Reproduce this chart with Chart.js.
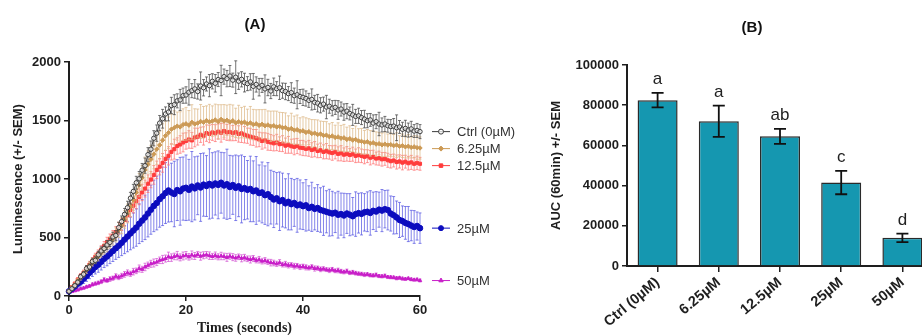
<!DOCTYPE html>
<html>
<head>
<meta charset="utf-8">
<script src="https://cdn.jsdelivr.net/npm/chart.js@4.4.1/dist/chart.umd.min.js"></script>
<style>
    html, body { margin: 0; padding: 0; background: #fff; overflow: hidden; }
    #wrap { position: relative; width: 922px; height: 335px; overflow: hidden; }
    #chartA { position: absolute; left: 0; top: 0; }
    #chartB { position: absolute; left: 540px; top: 0; }
</style>
</head>
<body>
<div id="wrap">
    <canvas id="chartA" width="560" height="335"></canvas>
    <canvas id="chartB" width="400" height="335"></canvas>
</div>
<script>
// (A) luminescence kinetics, one reading every 0.5 s from 0 to 60 s
const timeStep = 0.5;
const seriesNames = ['Ctrl (0µM)', '6.25µM', '12.5µM', '25µM', '50µM'];

const ctrlMean = [
    40, 62, 88, 118, 165, 186, 235, 248, 295, 305,
    352, 385, 405, 436, 458, 505, 518, 585, 636, 698,
    755, 836, 894, 968, 1002, 1075, 1114, 1208, 1255, 1348,
    1392, 1478, 1515, 1556, 1572, 1628, 1635, 1668, 1676, 1712,
    1718, 1742, 1755, 1770, 1748, 1795, 1780, 1812, 1798, 1835,
    1818, 1850, 1842, 1875, 1858, 1880, 1845, 1870, 1836, 1852,
    1824, 1815, 1830, 1792, 1808, 1785, 1800, 1770, 1782, 1752,
    1788, 1772, 1780, 1755, 1748, 1730, 1738, 1712, 1720, 1705,
    1698, 1688, 1672, 1680, 1655, 1648, 1630, 1640, 1615, 1622,
    1605, 1612, 1590, 1598, 1572, 1580, 1560, 1548, 1535, 1540,
    1525, 1512, 1498, 1505, 1478, 1490, 1470, 1462, 1470, 1455,
    1448, 1452, 1438, 1445, 1425, 1432, 1418, 1428, 1410, 1415,
    1405
];
const ctrlSem = [
    10, 12, 15, 18, 20, 22, 25, 25, 28, 30,
    30, 35, 32, 38, 35, 40, 42, 45, 48, 50,
    55, 50, 60, 55, 62, 58, 65, 60, 70, 65,
    70, 65, 80, 60, 75, 70, 85, 60, 90, 65,
    70, 110, 60, 80, 65, 120, 70, 60, 95, 65,
    75, 60, 130, 65, 70, 90, 60, 140, 70, 65,
    80, 60, 70, 110, 65, 75, 60, 120, 70, 65,
    75, 60, 100, 65, 70, 60, 85, 65, 120, 60,
    70, 65, 60, 90, 60, 75, 65, 60, 100, 60,
    65, 60, 80, 60, 70, 65, 55, 90, 60, 65,
    60, 75, 60, 55, 70, 60, 100, 60, 65, 55,
    60, 65, 110, 55, 60, 70, 60, 65, 55, 60,
    60
];

const dose625Mean = [
    42, 70, 95, 130, 158, 190, 222, 262, 288, 318,
    338, 372, 402, 425, 455, 490, 522, 565, 602, 655,
    705, 762, 820, 885, 948, 1010, 1078, 1125, 1168, 1212,
    1255, 1290, 1332, 1370, 1395, 1425, 1438, 1452, 1445, 1465,
    1472, 1460, 1485, 1470, 1478, 1492, 1485, 1500, 1488, 1495,
    1505, 1490, 1510, 1496, 1502, 1488, 1498, 1480, 1490, 1482,
    1486, 1472, 1480, 1465, 1472, 1458, 1468, 1455, 1462, 1450,
    1456, 1445, 1450, 1438, 1440, 1425, 1432, 1418, 1422, 1408,
    1412, 1398, 1405, 1388, 1392, 1380, 1385, 1372, 1375, 1362,
    1368, 1355, 1360, 1348, 1352, 1338, 1345, 1332, 1338, 1325,
    1322, 1315, 1318, 1305, 1310, 1298, 1302, 1292, 1298, 1290,
    1294, 1285, 1290, 1280, 1284, 1275, 1280, 1270, 1275, 1268,
    1265
];
const dose625Sem = [
    10, 12, 15, 18, 22, 25, 28, 30, 32, 35,
    38, 40, 45, 48, 50, 55, 60, 65, 70, 75,
    80, 85, 90, 95, 100, 105, 110, 115, 120, 125,
    130, 120, 140, 125, 135, 130, 145, 120, 130, 135,
    140, 125, 150, 130, 120, 145, 135, 125, 150, 130,
    135, 145, 125, 140, 130, 150, 135, 125, 140, 130,
    135, 125, 140, 130, 120, 135, 125, 140, 120, 130,
    125, 135, 120, 130, 125, 115, 130, 120, 125, 115,
    120, 125, 110, 120, 115, 125, 110, 120, 115, 110,
    115, 105, 120, 110, 115, 105, 110, 100, 115, 105,
    110, 100, 105, 110, 100, 105, 95, 100, 105, 95,
    100, 95, 105, 90, 100, 95, 100, 90, 95, 100,
    95
];

const dose125Mean = [
    42, 75, 105, 140, 172, 200, 235, 268, 298, 335,
    362, 395, 428, 462, 488, 515, 545, 580, 612, 650,
    690, 735, 772, 810, 848, 885, 918, 960, 995, 1035,
    1078, 1105, 1138, 1172, 1198, 1232, 1255, 1282, 1295, 1312,
    1325, 1338, 1330, 1355, 1362, 1378, 1368, 1392, 1385, 1398,
    1392, 1405, 1395, 1410, 1398, 1402, 1392, 1400, 1385, 1390,
    1378, 1370, 1362, 1355, 1348, 1338, 1325, 1330, 1318, 1312,
    1305, 1312, 1298, 1302, 1285, 1292, 1280, 1275, 1282, 1268,
    1265, 1258, 1262, 1248, 1255, 1240, 1245, 1232, 1238, 1228,
    1222, 1230, 1215, 1220, 1208, 1215, 1205, 1212, 1198, 1205,
    1198, 1190, 1195, 1182, 1188, 1175, 1178, 1168, 1172, 1160,
    1152, 1158, 1145, 1150, 1140, 1148, 1135, 1142, 1130, 1138,
    1130
];
const dose125Sem = [
    10, 12, 15, 18, 20, 22, 25, 28, 30, 30,
    32, 35, 38, 40, 42, 45, 48, 50, 52, 55,
    58, 60, 62, 65, 68, 70, 72, 75, 70, 80,
    75, 70, 80, 72, 78, 70, 85, 70, 75, 80,
    70, 75, 68, 80, 72, 65, 78, 70, 75, 68,
    72, 65, 80, 70, 68, 75, 65, 72, 70, 78,
    70, 65, 72, 68, 75, 62, 70, 65, 72, 68,
    65, 70, 62, 68, 65, 72, 60, 68, 65, 62,
    65, 60, 68, 62, 65, 58, 62, 60, 65, 58,
    62, 58, 60, 65, 58, 62, 55, 60, 58, 62,
    58, 60, 55, 62, 58, 55, 60, 58, 55, 60,
    58, 55, 60, 56, 62, 55, 58, 60, 55, 58,
    55
];

const dose25Mean = [
    40, 62, 82, 105, 122, 148, 170, 198, 222, 248,
    268, 292, 318, 338, 362, 385, 408, 430, 455, 482,
    508, 535, 560, 585, 618, 645, 672, 705, 738, 770,
    795, 828, 852, 880, 902, 885, 872, 905, 895, 918,
    925, 908, 935, 920, 945, 928, 952, 940, 958, 945,
    962, 950, 968, 945, 955, 932, 948, 925, 938, 915,
    922, 908, 915, 895, 902, 880, 885, 862, 870, 845,
    825, 835, 810, 820, 792, 805, 785, 795, 775, 782,
    768, 775, 752, 762, 745, 752, 735, 728, 720, 712,
    705, 712, 695, 700, 688, 705, 695, 682, 700, 708,
    702, 715, 720, 710, 728, 722, 738, 730, 742, 735,
    705, 690, 672, 650, 640, 625, 615, 602, 590, 598,
    580
];
const dose25Sem = [
    15, 20, 25, 30, 35, 40, 45, 50, 55, 60,
    65, 70, 75, 80, 85, 90, 95, 100, 110, 120,
    130, 140, 150, 160, 170, 180, 190, 200, 210, 220,
    230, 240, 250, 260, 270, 250, 280, 260, 290, 270,
    280, 260, 300, 270, 250, 290, 270, 260, 300, 280,
    270, 290, 260, 280, 300, 270, 250, 280, 260, 290,
    270, 250, 280, 260, 290, 240, 260, 250, 270, 230,
    240, 220, 250, 230, 210, 240, 220, 200, 230, 210,
    200, 220, 190, 210, 180, 200, 190, 210, 180, 200,
    190, 170, 200, 180, 190, 170, 180, 160, 190, 170,
    180, 160, 170, 190, 160, 170, 150, 180, 160, 170,
    150, 160, 140, 150, 130, 140, 150, 130, 140, 120,
    130
];

const dose50Mean = [
    30, 38, 45, 52, 62, 68, 78, 85, 98, 105,
    112, 122, 138, 132, 145, 152, 168, 160, 172, 185,
    198, 190, 208, 215, 235, 228, 248, 262, 275, 282,
    290, 305, 312, 320, 335, 328, 338, 345, 330, 342,
    348, 335, 350, 342, 355, 340, 348, 352, 345, 338,
    346, 335, 342, 338, 330, 340, 332, 325, 335, 322,
    328, 318, 312, 320, 305, 310, 298, 302, 292, 285,
    282, 275, 285, 268, 272, 262, 265, 255, 258, 248,
    252, 245, 240, 248, 235, 238, 228, 232, 225, 220,
    226, 215, 218, 210, 205, 212, 198, 202, 195, 190,
    188, 182, 185, 178, 175, 180, 170, 168, 172, 162,
    160, 158, 152, 155, 148, 145, 150, 142, 138, 140,
    132
];
const dose50Sem = [
    5, 6, 8, 8, 10, 10, 12, 12, 14, 14,
    15, 16, 18, 16, 20, 18, 22, 20, 22, 24,
    25, 22, 28, 24, 30, 26, 32, 28, 30, 34,
    30, 28, 35, 30, 40, 32, 28, 36, 30, 34,
    32, 28, 35, 30, 26, 34, 30, 28, 32, 26,
    30, 26, 32, 28, 34, 26, 30, 28, 24, 30,
    28, 24, 30, 26, 22, 28, 24, 26, 22, 28,
    24, 22, 26, 20, 24, 22, 20, 24, 20, 22,
    20, 22, 18, 20, 22, 18, 20, 18, 16, 20,
    18, 16, 20, 18, 16, 18, 15, 17, 16, 15,
    15, 16, 14, 15, 14, 16, 13, 14, 15, 13,
    13, 12, 14, 12, 13, 12, 11, 12, 11, 12,
    12
];

const meanSeries = [ctrlMean, dose625Mean, dose125Mean, dose25Mean, dose50Mean];
const semSeries = [ctrlSem, dose625Sem, dose125Sem, dose25Sem, dose50Sem];

// (B) area under the curve
const doseLabels = ['Ctrl (0µM)', '6.25µM', '12.5µM', '25µM', '50µM'];
const aucMean = [82500, 72000, 64500, 41500, 14000];
const aucSem = [3600, 7800, 3700, 5800, 2100];
const sigLetters = ['a', 'a', 'ab', 'c', 'd'];

// styles
const SANS = "'Liberation Sans', Arial, sans-serif";
const lineColors = ['#3c3c3c', '#cc9a55', '#ff3c3c', '#0c0cbe', '#c81ec8'];
const errColors = ['rgba(70,70,70,0.75)', 'rgba(222,186,138,0.75)', 'rgba(255,110,110,0.7)',
    'rgba(80,80,225,0.7)', 'rgba(210,80,210,0.7)'];
const pointStyles = ['circle', 'rectRot', 'rect', 'circle', 'triangle'];
const pointSizes = [2.2, 2.2, 2.2, 2.8, 2];
const pointFills = ['rgba(255,255,255,0.7)', '#cc9a55', '#ff3c3c', '#0c0cbe', '#c81ec8'];
const axisColor = '#1e1e1e';

Chart.defaults.font.family = SANS;
Chart.defaults.color = axisColor;
Chart.defaults.animation = false;
Chart.defaults.plugins.legend.display = false;
Chart.defaults.plugins.tooltip.enabled = false;

// Títulos dos painéis
function panelTitle(text, x, y) {
    return {
        id: 'panelTitle',
        afterDraw(chart) {
            const ctx = chart.ctx;
            ctx.save();
            ctx.font = 'bold 15px ' + SANS;
            ctx.fillStyle = '#111';
            ctx.textAlign = 'center';
            ctx.textBaseline = 'middle';
            ctx.fillText(text, x, y);
            ctx.restore();
        }
    };
}

// Barras de erro das curvas, desenhadas antes de cada série
const kineticErrorBars = {
    id: 'kineticErrorBars',
    beforeDatasetDraw(chart, args) {
        const i = args.index;
        const sem = semSeries[i];
        const { ctx, scales: { x, y } } = chart;
        ctx.save();
        ctx.strokeStyle = errColors[i];
        ctx.lineWidth = 1;
        ctx.beginPath();
        chart.data.datasets[i].data.forEach((p, j) => {
            const px = x.getPixelForValue(p.x);
            const top = y.getPixelForValue(p.y + sem[j]);
            const bot = y.getPixelForValue(p.y - sem[j]);
            ctx.moveTo(px, top); ctx.lineTo(px, bot);
            ctx.moveTo(px - 1.5, top); ctx.lineTo(px + 1.5, top);
            ctx.moveTo(px - 1.5, bot); ctx.lineTo(px + 1.5, bot);
        });
        ctx.stroke();
        ctx.restore();
    }
};

// Legenda ao lado do final de cada curva
const sideLegend = {
    id: 'sideLegend',
    afterDraw(chart) {
        const { ctx, chartArea, scales: { y } } = chart;
        let prev = -Infinity;
        ctx.save();
        chart.data.datasets.forEach((ds, i) => {
            const last = ds.data[ds.data.length - 1].y;
            const py = Math.max(y.getPixelForValue(last), prev + 17);
            prev = py;
            const x0 = chartArea.right + 12;
            ctx.strokeStyle = lineColors[i];
            ctx.lineWidth = 1;
            ctx.beginPath();
            ctx.moveTo(x0, py); ctx.lineTo(x0 + 18, py);
            ctx.stroke();
            ctx.fillStyle = pointFills[i];
            Chart.helpers.drawPoint(ctx, { pointStyle: pointStyles[i], radius: 2.5, borderWidth: 1, rotation: 0 }, x0 + 9, py);
            ctx.fillStyle = '#333';
            ctx.font = '13px ' + SANS;
            ctx.textAlign = 'left';
            ctx.textBaseline = 'middle';
            ctx.fillText(ds.label, x0 + 25, py + 1);
        });
        ctx.restore();
    }
};

// Barras de erro e letras de significância do gráfico de barras
const aucErrorBars = {
    id: 'aucErrorBars',
    afterDatasetsDraw(chart) {
        const { ctx, scales: { y } } = chart;
        const meta = chart.getDatasetMeta(0);
        ctx.save();
        meta.data.forEach((bar, i) => {
            const top = y.getPixelForValue(aucMean[i] + aucSem[i]);
            const bot = y.getPixelForValue(aucMean[i] - aucSem[i]);
            ctx.strokeStyle = '#111';
            ctx.lineWidth = 1.8;
            ctx.beginPath();
            ctx.moveTo(bar.x, top); ctx.lineTo(bar.x, bot);
            ctx.moveTo(bar.x - 6, top); ctx.lineTo(bar.x + 6, top);
            ctx.moveTo(bar.x - 6, bot); ctx.lineTo(bar.x + 6, bot);
            ctx.stroke();
            ctx.fillStyle = '#222';
            ctx.font = '17px ' + SANS;
            ctx.textAlign = 'center';
            ctx.textBaseline = 'alphabetic';
            ctx.fillText(sigLetters[i], bar.x, top - 9);
        });
        ctx.restore();
    }
};

const axisGrid = {
    display: true,
    drawOnChartArea: false,
    drawTicks: true,
    tickLength: 5,
    color: axisColor,
    lineWidth: 1.5
};
const axisBorder = { display: true, color: axisColor, width: 2 };
const tickFont = { size: 13, weight: 'bold' };

new Chart(document.getElementById('chartA'), {
    type: 'line',
    data: {
        datasets: meanSeries.map((values, i) => ({
            label: seriesNames[i],
            data: values.map((v, j) => ({ x: j * timeStep, y: v })),
            borderColor: lineColors[i],
            borderWidth: 1,
            pointStyle: pointStyles[i],
            pointRadius: pointSizes[i],
            pointBorderWidth: 1,
            pointBorderColor: lineColors[i],
            pointBackgroundColor: pointFills[i],
            tension: 0,
            clip: false
        }))
    },
    options: {
        responsive: false,
        layout: { padding: { top: 62, right: 140, left: 0, bottom: 0 } },
        scales: {
            x: {
                type: 'linear',
                min: 0,
                max: 60,
                ticks: { stepSize: 20, font: tickFont, padding: 2 },
                grid: axisGrid,
                border: axisBorder,
                title: {
                    display: true,
                    text: 'Times (seconds)',
                    font: { family: "'Liberation Serif', 'Times New Roman', serif", size: 14, weight: 'bold', lineHeight: 1 },
                    padding: { top: 0, bottom: 0 }
                },
                afterFit(scale) { scale.height = 39; }
            },
            y: {
                min: 0,
                max: 2000,
                ticks: { stepSize: 500, font: tickFont, padding: 3, callback: v => String(v) },
                grid: axisGrid,
                border: axisBorder,
                title: {
                    display: true,
                    text: 'Luminescence (+/- SEM)',
                    font: { size: 13, weight: 'bold' },
                    padding: { top: 11, bottom: 0 }
                },
                afterFit(scale) { scale.width = 69; }
            }
        }
    },
    plugins: [kineticErrorBars, sideLegend, panelTitle('(A)', 255, 25)]
});

new Chart(document.getElementById('chartB'), {
    type: 'bar',
    data: {
        labels: doseLabels,
        datasets: [{
            data: aucMean,
            backgroundColor: '#1597b0',
            borderColor: '#2a2a2a',
            borderWidth: 1.5,
            barPercentage: 0.654,
            categoryPercentage: 1
        }]
    },
    options: {
        responsive: false,
        layout: { padding: { top: 65, right: 7, left: 0, bottom: 0 } },
        scales: {
            x: {
                offset: true,
                ticks: { font: { size: 14.5, weight: 'bold' }, minRotation: 40, maxRotation: 40, padding: 2 },
                grid: Object.assign({}, axisGrid, { offset: false, tickLength: 6 }),
                border: axisBorder,
                afterFit(scale) { scale.height = 69; }
            },
            y: {
                min: 0,
                max: 100000,
                ticks: { stepSize: 20000, font: tickFont, padding: 3, callback: v => String(v) },
                grid: axisGrid,
                border: axisBorder,
                title: {
                    display: true,
                    text: 'AUC (60min) +/- SEM',
                    font: { size: 13, weight: 'bold' },
                    padding: { top: 9, bottom: 0 }
                },
                afterFit(scale) { scale.width = 87; }
            }
        }
    },
    plugins: [aucErrorBars, panelTitle('(B)', 212, 28)]
});
</script>
</body>
</html>
